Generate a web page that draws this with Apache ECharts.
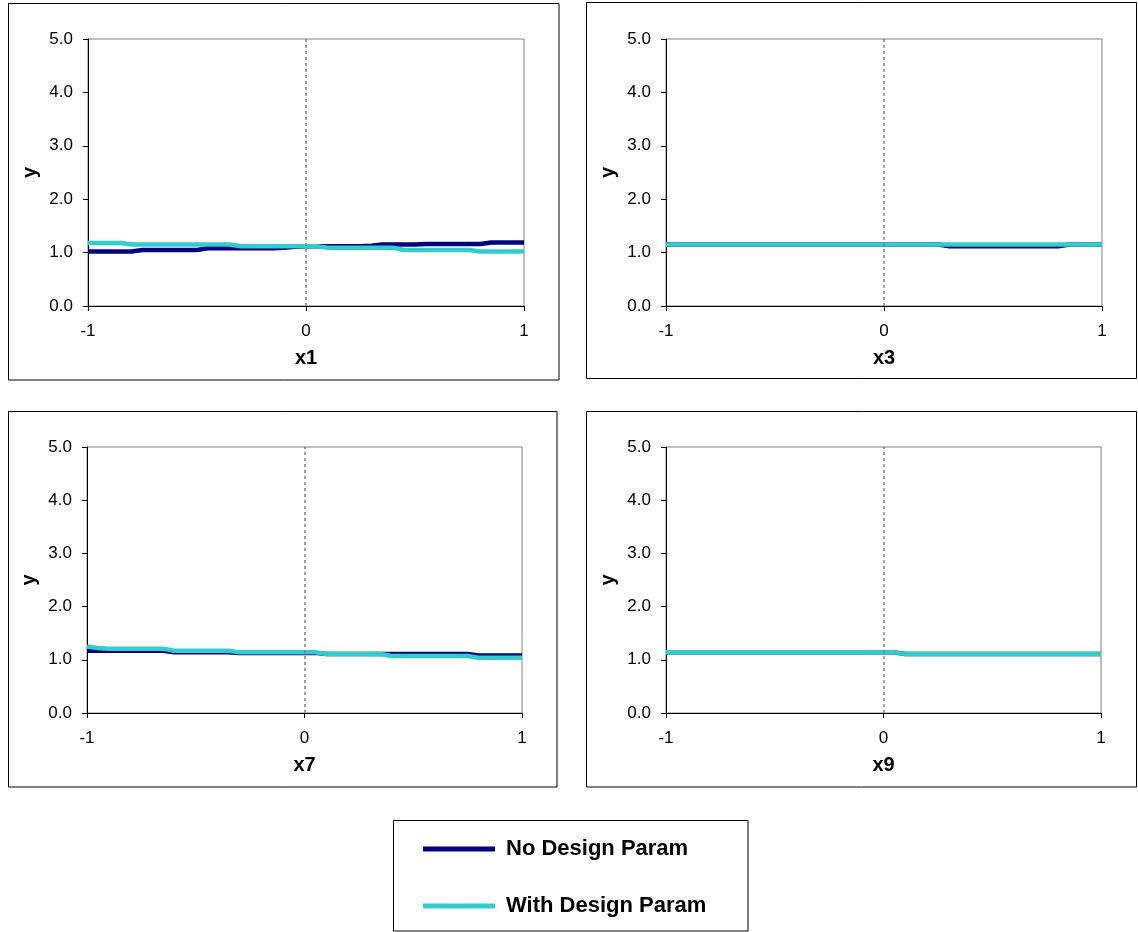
<!DOCTYPE html>
<html>
<head>
<meta charset="utf-8">
<script src="https://cdn.jsdelivr.net/npm/echarts@6/dist/echarts.min.js"></script>
<style>
    html, body { margin: 0; padding: 0; background: #fff; }
    #main { width: 1138px; height: 932px; }
</style>
</head>
<body>
<div id="main"></div>
<script>
    // x positions shared by every panel
    var xs = [-1, -0.95, -0.9, -0.85, -0.8, -0.75, -0.7, -0.65, -0.6, -0.55, -0.5,
        -0.45, -0.4, -0.35, -0.3, -0.25, -0.2, -0.15, -0.1, -0.05, 0,
        0.05, 0.1, 0.15, 0.2, 0.25, 0.3, 0.35, 0.4, 0.45, 0.5,
        0.55, 0.6, 0.65, 0.7, 0.75, 0.8, 0.85, 0.9, 0.95, 1];

    var seriesNames = ['No Design Param', 'With Design Param'];
    var panelNames = ['x1', 'x3', 'x7', 'x9'];
    var yTicks = ['0.0', '1.0', '2.0', '3.0', '4.0', '5.0'];

    // x1
    var noParam1 = [1.02, 1.02, 1.02, 1.02, 1.02, 1.05, 1.05, 1.05, 1.05, 1.05, 1.05,
        1.08, 1.08, 1.08, 1.08, 1.08, 1.08, 1.08, 1.09, 1.11, 1.12,
        1.12, 1.12, 1.12, 1.12, 1.12, 1.13, 1.15, 1.15, 1.15, 1.15,
        1.16, 1.16, 1.16, 1.16, 1.16, 1.16, 1.19, 1.19, 1.19, 1.19];
    var withParam1 = [1.18, 1.18, 1.18, 1.18, 1.15, 1.15, 1.15, 1.15, 1.15, 1.15, 1.15,
        1.15, 1.15, 1.15, 1.12, 1.12, 1.12, 1.12, 1.12, 1.12, 1.12,
        1.12, 1.09, 1.09, 1.09, 1.09, 1.09, 1.09, 1.09, 1.05, 1.05,
        1.05, 1.05, 1.05, 1.05, 1.05, 1.02, 1.02, 1.02, 1.02, 1.02];
    // x3
    var noParam3 = [1.15, 1.15, 1.15, 1.15, 1.15, 1.15, 1.15, 1.15, 1.15, 1.15, 1.15,
        1.15, 1.15, 1.15, 1.15, 1.15, 1.15, 1.15, 1.15, 1.15, 1.15,
        1.15, 1.15, 1.15, 1.15, 1.15, 1.12, 1.12, 1.12, 1.12, 1.12,
        1.12, 1.12, 1.12, 1.12, 1.12, 1.12, 1.15, 1.15, 1.15, 1.15];
    var withParam3 = [1.15, 1.15, 1.15, 1.15, 1.15, 1.15, 1.15, 1.15, 1.15, 1.15, 1.15,
        1.15, 1.15, 1.15, 1.15, 1.15, 1.15, 1.15, 1.15, 1.15, 1.15,
        1.15, 1.15, 1.15, 1.15, 1.15, 1.15, 1.15, 1.15, 1.15, 1.15,
        1.15, 1.15, 1.15, 1.15, 1.15, 1.15, 1.15, 1.15, 1.15, 1.15];
    // x7
    var noParam7 = [1.17, 1.17, 1.17, 1.17, 1.17, 1.17, 1.17, 1.17, 1.14, 1.14, 1.14,
        1.14, 1.14, 1.14, 1.13, 1.13, 1.13, 1.13, 1.13, 1.13, 1.13,
        1.13, 1.11, 1.11, 1.11, 1.11, 1.11, 1.11, 1.11, 1.11, 1.11,
        1.11, 1.11, 1.11, 1.11, 1.11, 1.08, 1.08, 1.08, 1.08, 1.08];
    var withParam7 = [1.25, 1.22, 1.21, 1.21, 1.21, 1.21, 1.21, 1.21, 1.17, 1.17, 1.17,
        1.17, 1.17, 1.17, 1.14, 1.14, 1.14, 1.14, 1.14, 1.14, 1.14,
        1.14, 1.11, 1.11, 1.11, 1.11, 1.11, 1.11, 1.07, 1.07, 1.07,
        1.07, 1.07, 1.07, 1.07, 1.07, 1.04, 1.04, 1.04, 1.04, 1.04];
    // x9
    var noParam9 = [1.14, 1.14, 1.14, 1.14, 1.14, 1.14, 1.14, 1.14, 1.14, 1.14, 1.14,
        1.14, 1.14, 1.14, 1.14, 1.14, 1.14, 1.14, 1.14, 1.14, 1.14,
        1.14, 1.11, 1.11, 1.11, 1.11, 1.11, 1.11, 1.11, 1.11, 1.11,
        1.11, 1.11, 1.11, 1.11, 1.11, 1.11, 1.11, 1.11, 1.11, 1.11];
    var withParam9 = [1.14, 1.14, 1.14, 1.14, 1.14, 1.14, 1.14, 1.14, 1.14, 1.14, 1.14,
        1.14, 1.14, 1.14, 1.14, 1.14, 1.14, 1.14, 1.14, 1.14, 1.14,
        1.14, 1.11, 1.11, 1.11, 1.11, 1.11, 1.11, 1.11, 1.11, 1.11,
        1.11, 1.11, 1.11, 1.11, 1.11, 1.11, 1.11, 1.11, 1.11, 1.11];

    var panelData = [
        [noParam1, withParam1],
        [noParam3, withParam3],
        [noParam7, withParam7],
        [noParam9, withParam9]
    ];

    var colors = ['#000080', '#33CCCC'];
    var font = 'Liberation Sans, Arial, sans-serif';

    var grids = [
        {left: 88, top: 39, width: 436, height: 267},
        {left: 666, top: 39, width: 436, height: 267},
        {left: 87, top: 447, width: 435, height: 266},
        {left: 666, top: 447, width: 435, height: 266}
    ];

    function pairs(ys) {
        var out = [];
        for (var i = 0; i < xs.length; i++) {
            out.push([xs[i], ys[i]]);
        }
        return out;
    }

    var gridOpt = [], xAxes = [], yAxes = [], series = [];
    for (var p = 0; p < 4; p++) {
        gridOpt.push({
            left: grids[p].left, top: grids[p].top,
            width: grids[p].width, height: grids[p].height,
            show: true, borderColor: '#808080', borderWidth: 1, backgroundColor: '#fff'
        });
        xAxes.push({
            type: 'value', gridIndex: p, min: -1, max: 1, interval: 1,
            name: panelNames[p], nameLocation: 'middle', nameGap: 42,
            nameTextStyle: {fontSize: 20, fontWeight: 'bold', color: '#000', fontFamily: font},
            axisLine: {show: true, onZero: false, lineStyle: {color: '#000', width: 1}},
            axisTick: {show: true, length: 5, lineStyle: {color: '#000'}},
            axisLabel: {fontSize: 17, color: '#000', margin: 17, fontFamily: font},
            splitLine: {show: false}
        });
        yAxes.push({
            type: 'value', gridIndex: p, min: 0, max: 5, interval: 1,
            name: 'y', nameLocation: 'middle', nameGap: 48, nameRotate: 90,
            nameTextStyle: {fontSize: 20, fontWeight: 'bold', color: '#000', fontFamily: font},
            axisLine: {show: true, onZero: false, lineStyle: {color: '#000', width: 1}},
            axisTick: {show: true, length: 5, lineStyle: {color: '#000'}},
            axisLabel: {
                fontSize: 17, color: '#000', margin: 15, fontFamily: font,
                formatter: function (v) { return yTicks[Math.round(v)]; }
            },
            splitLine: {show: false}
        });
        for (var s = 0; s < 2; s++) {
            var ser = {
                name: seriesNames[s],
                type: 'line',
                xAxisIndex: p, yAxisIndex: p,
                data: pairs(panelData[p][s]),
                showSymbol: false,
                symbol: 'none',
                silent: true,
                animation: false,
                color: colors[s],
                lineStyle: {color: colors[s], width: 4.5},
                z: 3 + s
            };
            if (s === 0) {
                // dotted line at x = 0
                ser.markLine = {
                    silent: true,
                    symbol: 'none',
                    label: {show: false},
                    lineStyle: {color: '#808080', type: [3, 3], width: 1.5},
                    data: [{xAxis: 0}]
                };
            }
            series.push(ser);
        }
    }

    var boxes = [
        [8.5, 3.5, 550.5, 376.5],
        [586.5, 2.5, 550, 376],
        [8.5, 411.5, 548.5, 375.5],
        [586.5, 411.5, 550, 375.5],
        [393.5, 820.5, 354.5, 110.5]
    ];
    var graphic = [];
    for (var b = 0; b < boxes.length; b++) {
        graphic.push({
            type: 'rect', z: -10, silent: true,
            shape: {x: boxes[b][0], y: boxes[b][1], width: boxes[b][2], height: boxes[b][3]},
            style: {fill: 'none', stroke: '#000', lineWidth: 1}
        });
    }

    var myChart = echarts.init(document.getElementById('main'));
    var option = {
        backgroundColor: '#fff',
        animation: false,
        grid: gridOpt,
        xAxis: xAxes,
        yAxis: yAxes,
        legend: {
            data: seriesNames,
            orient: 'vertical',
            left: 418, top: 832,
            icon: 'rect',
            itemWidth: 72, itemHeight: 5,
            itemGap: 33,
            selectedMode: false,
            itemStyle: {borderWidth: 0},
            textStyle: {fontSize: 22, fontWeight: 'bold', color: '#000', fontFamily: font,
                lineHeight: 24, padding: [0, 0, 0, 6]}
        },
        graphic: graphic,
        series: series
    };
    myChart.setOption(option);
</script>
</body>
</html>
